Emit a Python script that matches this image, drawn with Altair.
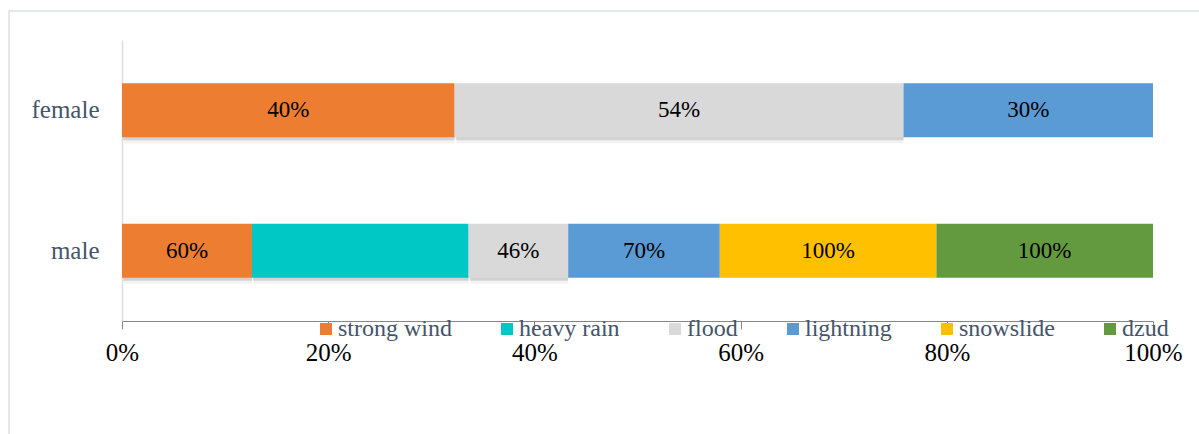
import altair as alt
import pandas as pd

# ---- data ----
hazards_female = ["strong wind", "flood", "lightning"]
values_female = [40, 54, 30]
labels_female = ["40%", "54%", "30%"]

hazards_male = ["strong wind", "heavy rain", "flood", "lightning", "snowslide", "dzud"]
values_male = [60, 100, 46, 70, 100, 100]
labels_male = ["60%", "", "46%", "70%", "100%", "100%"]

hazard_order = ["strong wind", "heavy rain", "flood", "lightning", "snowslide", "dzud"]
hazard_colors = ["#ED7D31", "#00C8C4", "#D9D9D9", "#5B9BD5", "#FFC000", "#639A3F"]
genders = ["female", "male"]
tick_values = [0, 0.2, 0.4, 0.6, 0.8, 1.0]

rows = []
for h, v, l in zip(hazards_female, values_female, labels_female):
    rows.append({"gender": "female", "hazard": h, "value": v, "label": l,
                 "order": hazard_order.index(h)})
for h, v, l in zip(hazards_male, values_male, labels_male):
    rows.append({"gender": "male", "hazard": h, "value": v, "label": l,
                 "order": hazard_order.index(h)})
df = pd.DataFrame(rows)

SERIF = "Times New Roman, Liberation Serif, serif"
shadowed = ["strong wind", "heavy rain", "flood"]

base = alt.Chart(df).transform_stack(
    stack="value", groupby=["gender"], as_=["x0", "x1"], offset="normalize",
    sort=[alt.SortField("order", order="ascending")]
).transform_calculate(xm="(datum.x0 + datum.x1) / 2")

xscale = alt.Scale(domain=[0, 1], nice=False, zero=True)
yscale = alt.Scale(paddingInner=0, paddingOuter=0)
x_axis = alt.Axis(values=tick_values, format=".0%", title=None, grid=False,
                  domainColor="#868686", domainWidth=1.2, tickColor="#868686",
                  tickSize=8, labelFont=SERIF, labelFontSize=25, labelColor="#000000",
                  labelPadding=11, labelFlush=False, labelOverlap=False)
y_axis = alt.Axis(title=None, ticks=False, domainColor="#D9DEE5", domainWidth=1.5,
                  labelFont=SERIF, labelFontSize=25, labelColor="#44546A",
                  labelPadding=23)

def xenc(field):
    return alt.X(field, scale=xscale, axis=x_axis, title=None)

y_enc = alt.Y("gender:N", sort=genders, scale=yscale, axis=y_axis, title=None)

shadow1 = base.transform_filter(
    alt.FieldOneOfPredicate(field="hazard", oneOf=shadowed)
).mark_bar(size=54, yOffset=3, xOffset=1, color="#000000", opacity=0.13).encode(
    x=xenc("x0:Q"), x2="x1:Q", y=y_enc)
shadow2 = base.transform_filter(
    alt.FieldOneOfPredicate(field="hazard", oneOf=shadowed)
).mark_bar(size=54, yOffset=6, xOffset=2, color="#000000", opacity=0.05).encode(
    x=xenc("x0:Q"), x2="x1:Q", y=y_enc)

bars = base.mark_bar(size=54).encode(
    x=xenc("x0:Q"), x2="x1:Q", y=y_enc,
    color=alt.Color("hazard:N", scale=alt.Scale(domain=hazard_order, range=hazard_colors),
                    legend=alt.Legend(orient="none", legendX=192, legendY=277,
                                      direction="horizontal", title=None,
                                      symbolType="square", symbolSize=144,
                                      symbolStrokeWidth=0, labelFont=SERIF,
                                      labelFontSize=24, labelColor="#44546A",
                                      labelOffset=0, columnPadding=43, padding=0,
                                      labelLimit=300)),
)

texts = base.mark_text(font=SERIF, fontSize=23, color="#000000", baseline="middle").encode(
    x=xenc("xm:Q"), y=y_enc, text="label:N")

frame = alt.Chart(pd.DataFrame({"a": [0]})).mark_rect(
    filled=False, stroke="#DDE2E8", strokeWidth=1.5
).encode(x=alt.value(-113), x2=alt.value(1100), y=alt.value(-29), y2=alt.value(420))

chart = alt.layer(frame, shadow2, shadow1, bars, texts).properties(
    width=1031, height=281,
    autosize=alt.AutoSizeParams(type="none"),
    padding={"left": 122, "top": 40, "right": 46, "bottom": 113},
).configure_view(stroke="transparent")

chart.save("out.html", embed_options={"renderer": "svg", "actions": False})
